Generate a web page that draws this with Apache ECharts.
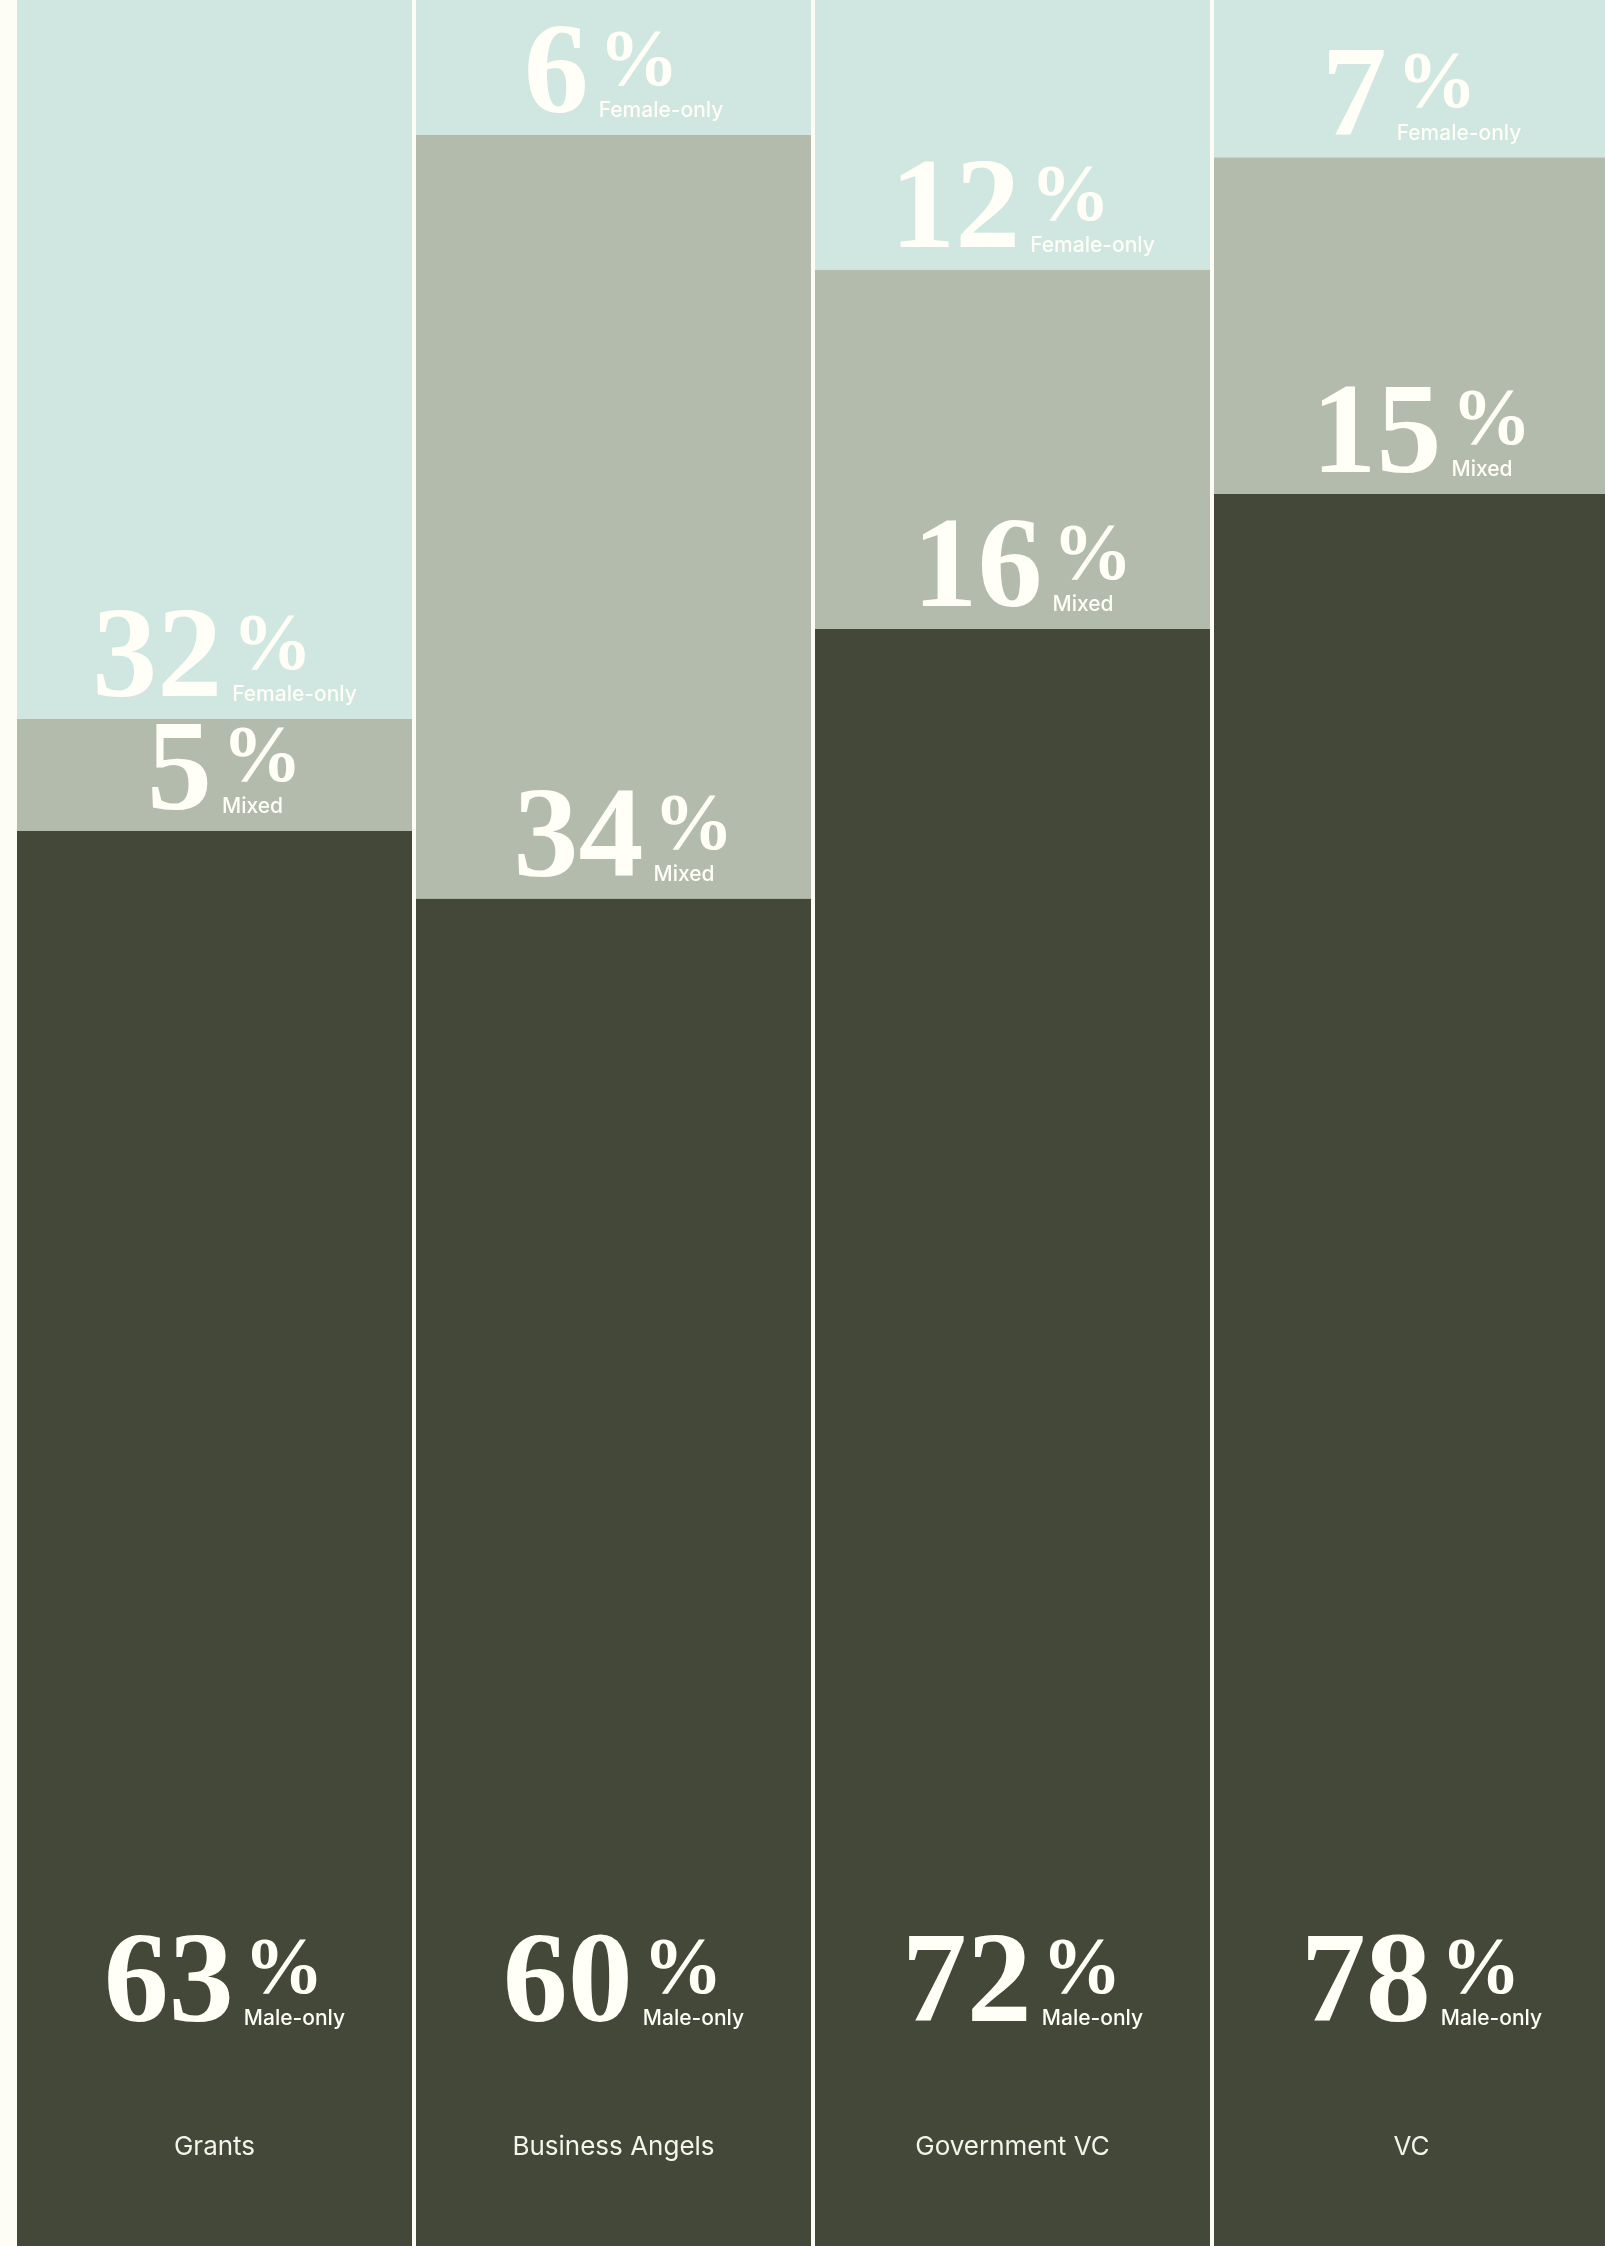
<!DOCTYPE html>
<html>
<head>
<meta charset="utf-8">
<title>Funding by team gender</title>
<script src="https://cdn.jsdelivr.net/npm/echarts@6/dist/echarts.min.js"></script>
<style>
  html, body { margin: 0; padding: 0; background: #fdfdf5; }
  #chart { width: 1605px; height: 2246px; }
</style>
</head>
<body>
<div id="chart"></div>
<script>
// data
const categories = ["Grants", "Business Angels", "Government VC", "VC"];
const maleOnly = [63, 60, 72, 78];
const mixed = [5, 34, 16, 15];
const femaleOnly = [32, 6, 12, 7];
const segmentNames = ["Male-only", "Mixed", "Female-only"];
const segmentColors = ["#434838", "#b3bbac", "#cfe6e1"];

const textColor = "#fffef7";
const numFont = { size: 130, family: '"Liberation Serif"', weight: "bold" };
const pctFont = { size: 80, family: '"Liberation Serif"', weight: "bold" };
const subFont = { size: 21, family: "Inter", weight: "500" };

// measure text so the number + "%" block sits centred in each column
const ctx = document.createElement("canvas").getContext("2d");
const tw = (text, f) => {
  ctx.font = f.weight + " " + f.size + "px " + f.family;
  return ctx.measureText(text).width;
};

const buildSeries = (values, idx) => {
  const sub = segmentNames[idx];
  // male label sits fixed near the bottom, others just above segment bottom
  const dy = idx === 0 ? -194 : 9;
  const numData = [];
  const blockData = [];
  values.forEach((v) => {
    const numW = tw(String(v), numFont);
    const blockW = Math.max(tw("%", pctFont), tw(sub, subFont));
    const gap = 10;
    const left = -(numW + gap + blockW) / 2 + 10;
    numData.push({ value: v, label: { offset: [left + numW, dy] } });
    blockData.push({ value: v, label: { offset: [left + numW + gap, dy - 23] } });
  });
  return [
    {
      name: sub,
      type: "bar",
      stack: "a",
      barWidth: 395,
      data: numData,
      itemStyle: { color: segmentColors[idx] },
      emphasis: { disabled: true },
      label: {
        show: true,
        position: "insideBottom",
        distance: 0,
        align: "right",
        verticalAlign: "bottom",
        color: textColor,
        fontSize: numFont.size,
        fontFamily: "Liberation Serif",
        fontWeight: "bold",
        lineHeight: 130,
        formatter: (p) => String(p.value),
      },
    },
    {
      name: sub + "-pct",
      type: "bar",
      stack: "b",
      barWidth: 395,
      barGap: "-100%",
      data: blockData,
      itemStyle: { color: "transparent" },
      emphasis: { disabled: true },
      z: 3,
      label: {
        show: true,
        position: "insideBottom",
        distance: 0,
        align: "left",
        verticalAlign: "bottom",
        formatter: "{p|%}\n{s|" + sub + "}",
        rich: {
          p: {
            fontSize: pctFont.size,
            fontFamily: "Liberation Serif",
            fontWeight: "bold",
            lineHeight: 73,
            color: textColor,
          },
          s: {
            fontSize: subFont.size,
            fontFamily: "Inter",
            fontWeight: 500,
            lineHeight: 20,
            color: textColor,
          },
        },
      },
    },
  ];
};

const chart = echarts.init(document.getElementById("chart"), null, { renderer: "canvas" });

const s0 = buildSeries(maleOnly, 0);
const s1 = buildSeries(mixed, 1);
const s2 = buildSeries(femaleOnly, 2);

chart.setOption({
  backgroundColor: "#fdfdf5",
  animation: false,
  grid: { left: 15, top: 0, bottom: 0, width: 1596, outerBoundsMode: "none" },
  xAxis: {
    type: "category",
    data: categories,
    z: 10,
    axisLine: { show: false },
    axisTick: { show: false },
    axisLabel: {
      inside: true,
      margin: 99,
      verticalAlign: "middle",
      color: "#f4f4ec",
      fontSize: 26,
      fontFamily: "Inter",
    },
  },
  yAxis: {
    type: "value",
    min: 0,
    max: 100,
    show: false,
    splitLine: { show: false },
  },
  // visible stack first, then the transparent label stack
  series: [s0[0], s1[0], s2[0], s0[1], s1[1], s2[1]],
});
</script>
</body>
</html>
